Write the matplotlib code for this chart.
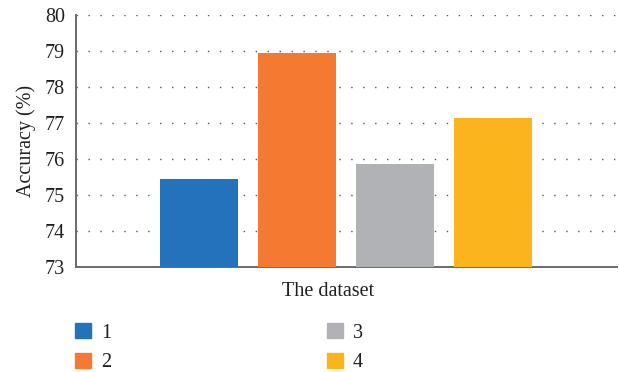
import matplotlib
matplotlib.use("Agg")
import matplotlib.pyplot as plt
import matplotlib.patches as mpatches

# ── Data ──────────────────────────────────────────────────────────────────────
categories = ["1", "2", "3", "4"]
accuracy = [75.45, 78.95, 75.87, 77.15]
colors = ["#2372ba", "#f37a30", "#b1b2b5", "#fbb41b"]
yticks = [73, 74, 75, 76, 77, 78, 79, 80]

plt.rcParams["font.family"] = ["Liberation Serif", "DejaVu Serif"]
FS = 14.5

fig = plt.figure(figsize=(6.19, 3.72), dpi=100)
ax = fig.add_axes([0.1228, 0.2823, 0.874, 0.6774])

x = range(len(categories))
ax.bar(x, [a - 73 for a in accuracy], bottom=73, width=0.8, color=colors, zorder=3)

ax.set_ylim(73, 80)
ax.set_xlim(-1.255, 4.265)
ax.set_yticks(yticks)
ax.set_yticklabels([str(t) for t in yticks], fontsize=FS, color="#231f20")
ax.set_xticks([])
ax.tick_params(axis="y", length=0, pad=8)

# dotted horizontal grid
for t in yticks[1:]:
    ax.axhline(t, color="#555555", lw=1.0, dashes=(1, 7.6), zorder=1)

for s in ["top", "right"]:
    ax.spines[s].set_visible(False)
for s in ["left", "bottom"]:
    ax.spines[s].set_color("#6b6b6b")
    ax.spines[s].set_linewidth(1.4)

ax.set_ylabel("Accuracy (%)", fontsize=FS, color="#231f20", labelpad=6)
ax.set_xlabel("The dataset", fontsize=FS, color="#231f20")
ax.xaxis.set_label_coords((328 - 76) / 541, -0.058, transform=ax.transAxes)
ax.xaxis.label.set_va("top")

handles = [mpatches.Patch(color=c, label=l) for c, l in zip(colors, categories)]
fig.legend(handles=handles, ncol=2, loc="upper left",
           bbox_to_anchor=(0.1212, 0.132), frameon=False, fontsize=FS,
           borderpad=0, borderaxespad=0,
           handlelength=0.8, handleheight=0.8, handletextpad=0.5,
           columnspacing=10.7, labelspacing=0.5, labelcolor="#231f20")

plt.savefig("out.png", dpi=100)
plt.close()
